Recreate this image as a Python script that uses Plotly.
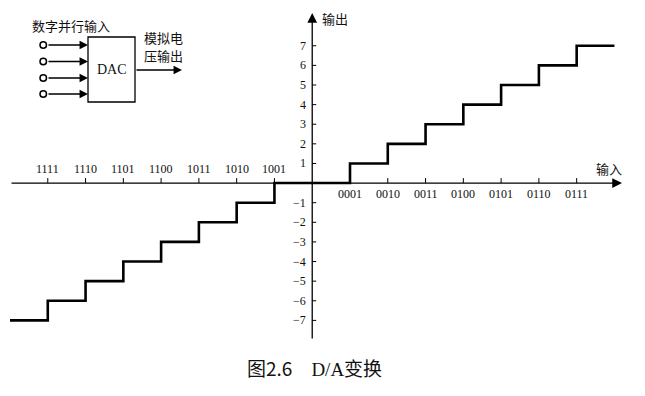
import plotly.graph_objects as go

# ---- data ----
pos_codes = ["0001", "0010", "0011", "0100", "0101", "0110", "0111"]
pos_x = [1, 2, 3, 4, 5, 6, 7]
neg_codes = ["1001", "1010", "1011", "1100", "1101", "1110", "1111"]
neg_x = [-1, -2, -3, -4, -5, -6, -7]
y_ticks = [7, 6, 5, 4, 3, 2, 1, -1, -2, -3, -4, -5, -6, -7]
y_labels = ["7", "6", "5", "4", "3", "2", "1",
            "−1", "−2", "−3", "−4", "−5", "−6", "−7"]
# staircase transfer curve (breakpoints, drawn with hv steps)
stair_x = [-8, -7, -6, -5, -4, -3, -2, -1, 1, 2, 3, 4, 5, 6, 7, 8]
stair_y = [-7, -6, -5, -4, -3, -2, -1, 0, 1, 2, 3, 4, 5, 6, 7, 7]

# page has an 8px body margin, so the figure is 16px smaller than the window
OFF = 8
W, H = 645 - 2 * OFF, 396 - 2 * OFF
# plot area in window pixels: x 10..622, y 13..340
PL, PR, PT, PB = 10, 622, 13, 340
ML, MR, MT, MB = PL - OFF, W - (PR - OFF), PT - OFF, H - (PB - OFF)
XR = [-8.0, 8.2]
YR = [-8.0, 8.67]

SERIF = "Liberation Serif"
CJK = "Noto Sans CJK SC"
TXT = "#111111"


def px(x):
    return (x - PL) / (PR - PL)


def py(y):
    return (PB - y) / (PB - PT)


def label(x, y, text, size=13, family=CJK, **kw):
    d = dict(x=px(x), y=py(y), xref="paper", yref="paper", text=text,
             showarrow=False, xanchor="center", yanchor="middle",
             font=dict(family=family, size=size, color=TXT))
    d.update(kw)
    return d


fig = go.Figure()
fig.add_trace(go.Scatter(x=stair_x, y=stair_y, mode="lines",
                         line=dict(shape="hv", color="black", width=2.6),
                         hoverinfo="skip", showlegend=False))

shapes = []
ann = []

# axes with arrows
ann.append(dict(x=XR[1], y=0, ax=XR[0], ay=0, xref="x", yref="y",
                axref="x", ayref="y", text="", showarrow=True,
                arrowhead=2, arrowsize=1.5, arrowwidth=1.3, arrowcolor="black"))
ann.append(dict(x=0, y=YR[1], ax=0, ay=YR[0], xref="x", yref="y",
                axref="x", ayref="y", text="", showarrow=True,
                arrowhead=2, arrowsize=1.5, arrowwidth=1.3, arrowcolor="black"))

# x ticks and labels
for xv, lab in zip(pos_x, pos_codes):
    shapes.append(dict(type="line", xref="x", yref="y", ysizemode="pixel",
                       yanchor=0, x0=xv, x1=xv, y0=0, y1=5,
                       line=dict(color="black", width=1)))
    ann.append(dict(x=xv, y=0, xref="x", yref="y", text=lab, showarrow=False,
                    xanchor="center", yanchor="middle", yshift=-11,
                    font=dict(family=SERIF, size=12, color=TXT)))
for xv, lab in zip(neg_x, neg_codes):
    shapes.append(dict(type="line", xref="x", yref="y", ysizemode="pixel",
                       yanchor=0, x0=xv, x1=xv, y0=0, y1=5,
                       line=dict(color="black", width=1)))
    ann.append(dict(x=xv, y=0, xref="x", yref="y", text=lab, showarrow=False,
                    xanchor="center", yanchor="middle", yshift=14,
                    font=dict(family=SERIF, size=12, color=TXT)))

# y ticks and labels
for yv, lab in zip(y_ticks, y_labels):
    shapes.append(dict(type="line", xref="x", yref="y", xsizemode="pixel",
                       xanchor=0, x0=0, x1=4, y0=yv, y1=yv,
                       line=dict(color="black", width=1)))
    ann.append(dict(x=0, y=yv, xref="x", yref="y", text=lab, showarrow=False,
                    xanchor="right", yanchor="middle", xshift=-4,
                    font=dict(family=SERIF, size=12, color=TXT)))

# axis titles
ann.append(label(335, 8.5, "输出", yanchor="top", borderpad=0))
ann.append(label(609, 168, "输入"))

# block diagram (top-left)
ann.append(label(71, 25, "数字并行输入"))
shapes.append(dict(type="rect", xref="paper", yref="paper",
                   x0=px(88), x1=px(135), y0=py(37), y1=py(102),
                   line=dict(color="black", width=1.3)))
ann.append(label(112, 70, "DAC", size=14, family=SERIF))
for yy in [45, 61.5, 78, 94]:
    shapes.append(dict(type="circle", xref="paper", yref="paper",
                       x0=px(40), x1=px(46.5), y0=py(yy - 3.2), y1=py(yy + 3.2),
                       line=dict(color="black", width=1.5), fillcolor="white"))
    ann.append(dict(x=px(88), y=py(yy), xref="paper", yref="paper", text="",
                    showarrow=True, ax=-41, ay=0, arrowhead=2, arrowsize=1.3,
                    arrowwidth=1.3, arrowcolor="black"))
ann.append(dict(x=px(182), y=py(70), xref="paper", yref="paper", text="",
                showarrow=True, ax=-47, ay=0, arrowhead=2, arrowsize=1.3,
                arrowwidth=1.3, arrowcolor="black"))
ann.append(label(143, 37, "模拟电", xanchor="left", borderpad=0))
ann.append(label(143, 55.5, "压输出", xanchor="left", borderpad=0))

# caption
ann.append(label(314, 367,
                 "图2.6\u3000<span style=\"font-family:'Liberation Serif'\">D/A</span>变换",
                 size=19))

fig.update_layout(
    width=W, height=H,
    margin=dict(l=ML, r=MR, t=MT, b=MB, autoexpand=False),
    paper_bgcolor="white", plot_bgcolor="white",
    xaxis=dict(range=XR, visible=False, fixedrange=True),
    yaxis=dict(range=YR, visible=False, fixedrange=True),
    shapes=shapes, annotations=ann, showlegend=False,
)
fig.write_html("out.html")
